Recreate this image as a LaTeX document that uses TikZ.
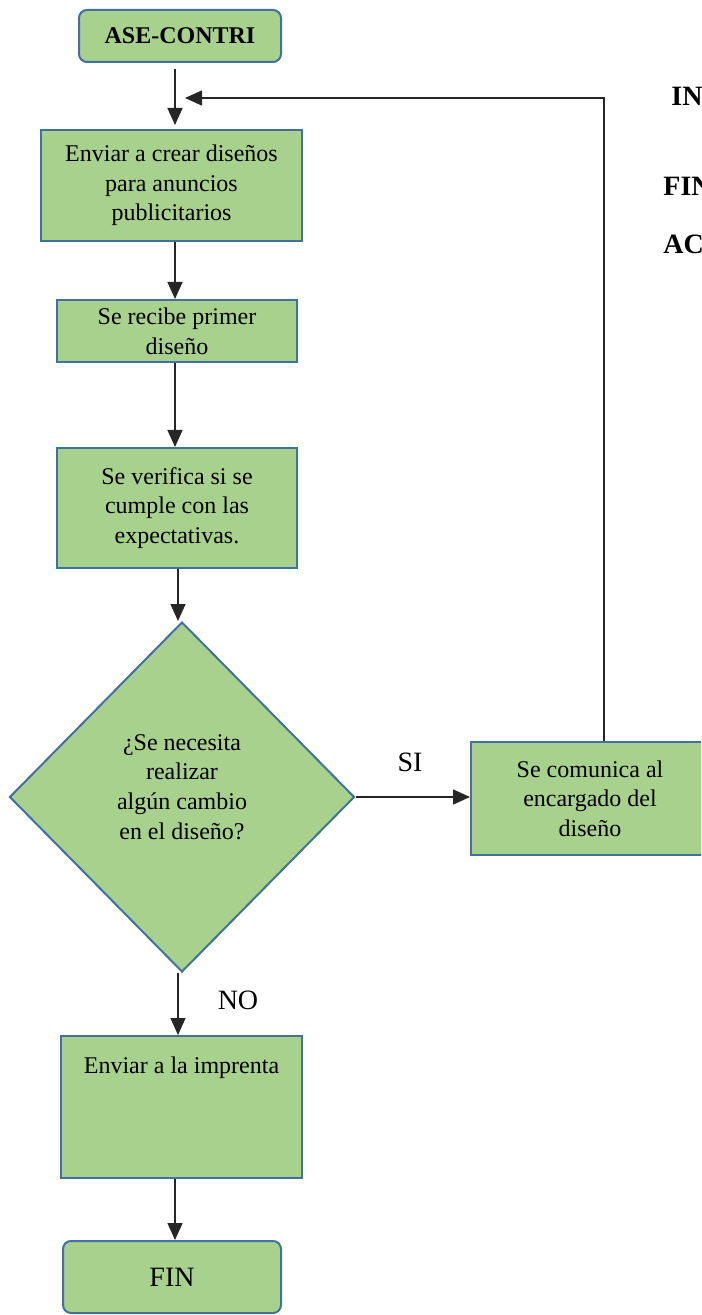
\documentclass[tikz,border=0pt]{standalone}
\usepackage{fontspec}
\setmainfont{Liberation Serif}
\usetikzlibrary{shapes.geometric,arrows.meta}
\definecolor{boxfill}{HTML}{A9D18E}
\definecolor{boxline}{HTML}{41719C}
\tikzset{
  stepbox/.style={draw=boxline, line width=1pt, fill=boxfill, rectangle, align=center,
    font=\fontsize{12}{14.8}\selectfont, inner sep=0pt},
  termbox/.style={stepbox, rounded corners=4pt},
  decbox/.style={draw=boxline, line width=1pt, fill=boxfill, diamond, inner sep=0pt},
  plain/.style={align=center, font=\fontsize{12}{14.8}\selectfont, inner sep=0pt},
  biglabel/.style={font=\fontsize{14}{16}\selectfont, inner sep=0pt},
  sidelabel/.style={font=\fontsize{14}{16}\selectfont\bfseries, inner sep=0pt, anchor=west},
  conn/.style={draw=black!85, line width=0.7pt, -{Triangle[length=8.5pt,width=7.5pt]}},
}
\begin{document}
\begin{tikzpicture}[x=0.5pt,y=-0.5pt]
\useasboundingbox (0,0) rectangle (701,1315);
\clip (0,0) rectangle (701,1315);
% nodes
\node[termbox, minimum width=101pt, minimum height=26pt, font=\fontsize{12}{14.8}\selectfont\bfseries] (start) at (180,36) {ASE-CONTRI};
\node[stepbox, minimum width=130.5pt, minimum height=55.5pt] (b1) at (171.5,185.5) {Enviar a crear diseños\\para anuncios\\publicitarios};
\node[stepbox, minimum width=120pt, minimum height=31pt] (b2) at (177,331) {Se recibe primer\\diseño};
\node[stepbox, minimum width=120pt, minimum height=60pt] (b3) at (177,508) {Se verifica si se\\cumple con las\\expectativas.};
\node[decbox, minimum width=172.5pt, minimum height=175pt] (dec) at (182,797) {};
\node[plain] (dect) at (182,787) {¿Se necesita\\realizar\\algún cambio\\en el diseño?};
\node[stepbox, minimum width=119pt, minimum height=56.5pt] (b4) at (590,798.5) {Se comunica al\\encargado del\\diseño};
\node[stepbox, minimum width=120.5pt, minimum height=71pt] (b5) at (181.5,1107) {};
\node[plain] (b5t) at (181.5,1068) {Enviar a la imprenta};
\node[termbox, minimum width=109pt, minimum height=36pt, font=\fontsize{14}{16}\selectfont] (fin) at (172,1277) {FIN};
% labels
\node[biglabel] (si) at (410,762) {SI};
\node[biglabel] (no) at (238,1000) {NO};
\node[sidelabel] (in) at (671,96) {IN};
\node[sidelabel] (fi) at (663,186) {FIN};
\node[sidelabel] (ac) at (663,244) {AC};
% columns for connectors
\coordinate (c1) at (175,0);
\coordinate (c2) at (178,0);
\coordinate (fb) at (604,98);
\coordinate (tip) at (185,98);
% connectors
\draw[conn, shorten <=3pt, shorten >=2pt] (start.south -| c1) -- (b1.north -| c1);
\draw[conn] (b1.south -| c1) -- (b2.north -| c1);
\draw[conn] (b2.south -| c1) -- (b3.north -| c1);
\draw[conn] (b3.south -| c2) -- (dec.north -| c2);
\draw[conn] (dec.east) -- (b4.west |- dec.east);
\draw[conn] (dec.south -| c2) -- (b5.north -| c2);
\draw[conn] (b5.south -| c1) -- (fin.north -| c1);
\draw[conn] (b4.north -| fb) -- (fb) -- (tip);
\end{tikzpicture}
\end{document}
